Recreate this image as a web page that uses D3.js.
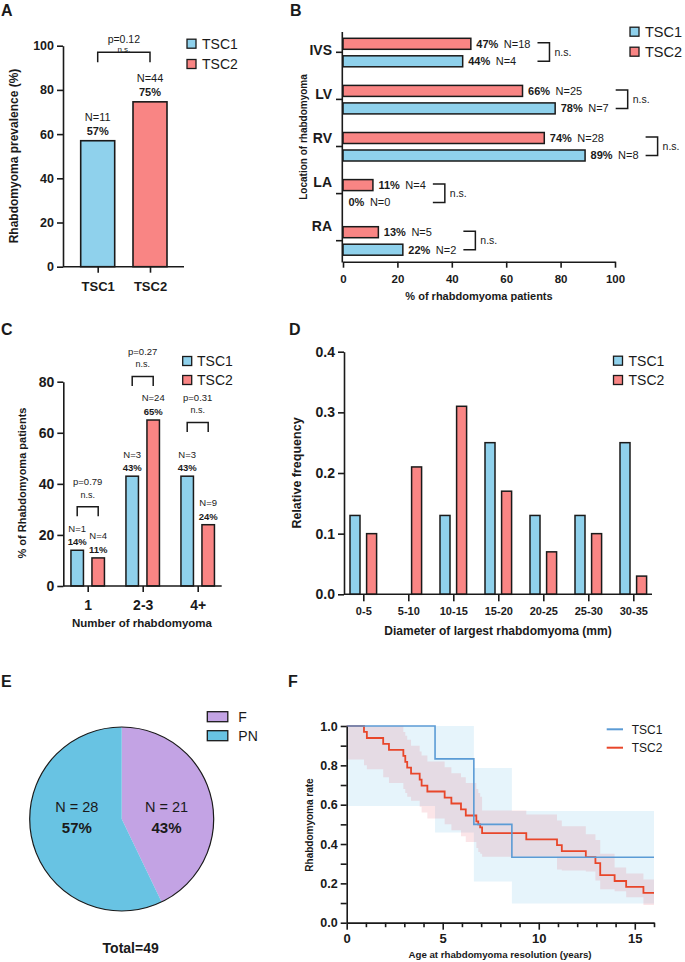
<!DOCTYPE html>
<html><head><meta charset="utf-8">
<script src="https://cdn.jsdelivr.net/npm/d3@7"></script>
<style>body{margin:0;background:#fff}svg{display:block}</style>
</head><body><svg id="fig" width="685" height="962"></svg>
<script>
// ---------------- DATA ----------------
const groups = ["TSC1", "TSC2"];
const prevalence = [57, 74.6];
const prevalenceN = ["N=11", "N=44"];
const prevalencePct = ["57%", "75%"];
const prevalenceP = "p=0.12";
const prevalenceBracket = 97;

const locations = ["IVS", "LV", "RV", "LA", "RA"];
const locTSC1 = [44, 78, 89, 0, 22];
const locTSC2 = [47, 66, 74, 11, 13];
const locN1 = [4, 7, 8, 0, 2];
const locN2 = [18, 25, 28, 4, 5];

const countCats = ["1", "2-3", "4+"];
const countTSC1 = [14, 43, 43];
const countTSC2 = [11, 65, 24];
const countN1 = [1, 3, 3];
const countN2 = [4, 24, 9];
const countP = ["p=0.79", "p=0.27", "p=0.31"];
const countBracket = [31, 82, 64];

const sizeBins = ["0-5", "5-10", "10-15", "15-20", "20-25", "25-30", "30-35"];
const sizeTSC1 = [0.13, 0, 0.13, 0.25, 0.13, 0.13, 0.25];
const sizeTSC2 = [0.10, 0.21, 0.31, 0.17, 0.07, 0.10, 0.03];

const pieLabels = ["F", "PN"];
const pieCounts = [21, 28];
const piePct = ["43%", "57%"];
const pieTotal = "Total=49";

const kmEnd = 16;
const kmTSC1Time  = [0, 4.6, 6.62, 8.6];
const kmTSC1Surv  = [1, 0.833, 0.5, 0.333];
const kmTSC1Upper = [1, 1, 0.787, 0.568];
const kmTSC1Lower = [0.593, 0.458, 0.209, 0.098];
const kmTSC2Time  = [0, 0.9, 1.05, 1.9, 2.2, 2.95, 3.05, 3.15, 3.35, 3.8, 3.9, 4.2, 5.1, 5.45, 5.95, 6.2, 6.75, 6.85, 6.95, 7.05, 9.35, 10.95, 11.2, 12.45, 12.95, 13.2, 13.95, 14.55, 15.45];
const kmTSC2Surv  = [1, 0.97, 0.939, 0.909, 0.879, 0.848, 0.818, 0.788, 0.758, 0.727, 0.697, 0.667, 0.636, 0.606, 0.576, 0.545, 0.515, 0.5, 0.485, 0.455, 0.424, 0.394, 0.364, 0.333, 0.303, 0.242, 0.212, 0.182, 0.152];
const kmTSC2Upper = [1, 1, 1, 1, 1, 0.97, 0.95, 0.93, 0.9, 0.87, 0.85, 0.82, 0.79, 0.76, 0.74, 0.71, 0.68, 0.66, 0.64, 0.57, 0.55, 0.52, 0.49, 0.45, 0.42, 0.35, 0.28, 0.25, 0.22];
const kmTSC2Lower = [0.83, 0.8, 0.78, 0.74, 0.71, 0.68, 0.66, 0.64, 0.62, 0.59, 0.56, 0.53, 0.5, 0.47, 0.44, 0.41, 0.38, 0.36, 0.35, 0.335, 0.335, 0.27, 0.265, 0.26, 0.215, 0.17, 0.16, 0.13, 0.09];

// ---------------- STYLE ----------------
const FONT = "'Liberation Sans', Arial, Helvetica, sans-serif";
const C1 = "#8FD1EC", C2 = "#F98584", INK = "#1a1a1a";
const PIE_COLORS = ["#C3A3E4", "#68C3E3"];
const KM1 = "#5B9BD5", KM2 = "#E8462A";

const svg = d3.select("#fig");
svg.append("rect").attr("width", 685).attr("height", 962).attr("fill", "#fff");

function text(g, x, y, s, size, weight = "normal", anchor = "middle") {
  return g.append("text").attr("x", x).attr("y", y).attr("dy", "0.35em")
    .attr("font-family", FONT).attr("font-size", size).attr("font-weight", weight)
    .attr("text-anchor", anchor).attr("fill", INK).text(s);
}
function vtext(g, x, y, s, size) {
  return g.append("text").attr("transform", `translate(${x},${y}) rotate(-90)`)
    .attr("dy", "0.35em").attr("font-family", FONT).attr("font-size", size)
    .attr("font-weight", "bold").attr("text-anchor", "middle").attr("fill", INK).text(s);
}
function styleAxis(g, size) {
  g.selectAll("path,line").attr("stroke", INK).attr("stroke-width", 1.6);
  g.selectAll("text").attr("font-family", FONT).attr("font-size", size)
    .attr("font-weight", "bold").attr("fill", INK);
}
function line(g, x1, y1, x2, y2, w = 1.6) {
  g.append("line").attr("x1", x1).attr("y1", y1).attr("x2", x2).attr("y2", y2)
    .attr("stroke", INK).attr("stroke-width", w);
}
function bracketDown(g, x1, x2, y, leg) {
  g.append("path").attr("d", `M${x1},${y + leg}V${y}H${x2}V${y + leg}`)
    .attr("fill", "none").attr("stroke", INK).attr("stroke-width", 1.5);
}
function legend(g, x, ys, labels, colors, tx, size, w = 9, h = 9) {
  labels.forEach((l, i) => {
    g.append("rect").attr("x", x).attr("y", ys[i] - h / 2).attr("width", w).attr("height", h)
      .attr("fill", colors[i]).attr("stroke", INK).attr("stroke-width", 1.3);
    text(g, tx, ys[i], l, size, "normal", "start");
  });
}
function letter(x, y, s) {
  svg.append("text").attr("x", x).attr("y", y).attr("font-family", FONT)
    .attr("font-size", 16).attr("font-weight", "bold").attr("fill", INK).text(s);
}

// ---------------- PANEL A ----------------
{
  const g = svg.append("g");
  letter(1, 16, "A");
  const y = d3.scaleLinear().domain([0, 100]).range([266.7, 45.7]);
  const x = d3.scalePoint().domain(groups).range([97.7, 150]);
  g.selectAll("rect.bar").data(groups).join("rect").attr("class", "bar")
    .attr("x", d => x(d) - 17).attr("width", 34)
    .attr("y", (d, i) => y(prevalence[i])).attr("height", (d, i) => y(0) - y(prevalence[i]))
    .attr("fill", (d, i) => [C1, C2][i]).attr("stroke", INK).attr("stroke-width", 1.6);
  const ya = g.append("g").attr("transform", "translate(63,0)")
    .call(d3.axisLeft(y).tickValues([0, 20, 40, 60, 80, 100]).tickSize(6).tickPadding(3).tickSizeOuter(0));
  styleAxis(ya, 12.5);
  line(g, 63, y(0), 184, y(0));
  const xa = g.append("g").attr("transform", `translate(0,${y(0)})`)
    .call(d3.axisBottom(x).tickSize(6).tickPadding(9));
  xa.select(".domain").remove();
  styleAxis(xa, 13);
  groups.forEach((d, i) => {
    text(g, x(d), y(prevalence[i]) - 24, prevalenceN[i], 11);
    text(g, x(d), y(prevalence[i]) - 10, prevalencePct[i], 11, "bold");
  });
  const by = y(prevalenceBracket);
  bracketDown(g, x(groups[0]), x(groups[1]), by, 10);
  text(g, (x(groups[0]) + x(groups[1])) / 2, by - 13.5, prevalenceP, 10.5);
  text(g, (x(groups[0]) + x(groups[1])) / 2, by - 3, "n.s.", 8);
  vtext(g, 14, 156, "Rhabdomyoma prevalence (%)", 12);
  legend(g, 187, [43.7, 64], groups, [C1, C2], 202, 14);
}

// ---------------- PANEL B ----------------
{
  const g = svg.append("g");
  letter(290, 16, "B");
  const x = d3.scaleLinear().domain([0, 100]).range([343, 615]);
  const y = d3.scalePoint().domain(locations).range([52.3, 240.7]);
  const yl = d3.scalePoint().domain(locations).range([50, 226]);
  locations.forEach((loc, i) => {
    const c = y(loc);
    g.append("rect").attr("x", x(0)).attr("y", c - 14).attr("height", 11)
      .attr("width", x(locTSC2[i]) - x(0)).attr("fill", C2).attr("stroke", INK).attr("stroke-width", 1.5);
    if (locTSC1[i] > 0)
      g.append("rect").attr("x", x(0)).attr("y", c + 3.5).attr("height", 11)
        .attr("width", x(locTSC1[i]) - x(0)).attr("fill", C1).attr("stroke", INK).attr("stroke-width", 1.5);
  });
  const xa = g.append("g").attr("transform", "translate(0,261.7)")
    .call(d3.axisBottom(x).tickValues([0, 20, 40, 60, 80, 100]).tickSize(6).tickPadding(7).tickSizeOuter(0));
  styleAxis(xa, 11.5);
  line(g, 342.3, 32, 342.3, 262.5);
  locations.forEach((loc, i) => {
    line(g, 336, y(loc), 342.3, y(loc));
    text(g, 332, yl(loc), loc, 14, "bold", "end");
  });
  function barLabel(v, n, cy) {
    const t = g.append("text").attr("x", x(v) + 5.5).attr("y", cy).attr("dy", "0.35em")
      .attr("font-family", FONT).attr("font-size", 11).attr("fill", INK);
    t.append("tspan").attr("font-weight", "bold").text(v + "%");
    t.append("tspan").attr("dx", 5.5).text("N=" + n);
    const bb = t.node().getBBox();
    return bb.x + bb.width;
  }
  locations.forEach((loc, i) => {
    const c = y(loc);
    const e2 = barLabel(locTSC2[i], locN2[i], c - 8.5);
    const e1 = barLabel(locTSC1[i], locN1[i], c + 9);
    const bx = Math.max(e1, e2) + 19;
    g.append("path").attr("d", `M${bx - 12},${c - 9.5}H${bx}V${c + 9}H${bx - 12}`)
      .attr("fill", "none").attr("stroke", INK).attr("stroke-width", 1.5);
    text(g, bx + 5, c, "n.s.", 10.5, "normal", "start");
  });
  vtext(g, 303, 137, "Location of rhabdomyoma", 10);
  text(g, 479, 296, "% of rhabdomyoma patients", 11, "bold");
  legend(g, 630, [31.7, 51.7], groups, [C1, C2], 645, 14.5);
}

// ---------------- PANEL C ----------------
{
  const g = svg.append("g");
  letter(1, 335, "C");
  const y = d3.scaleLinear().domain([0, 80]).range([586, 381.7]);
  const x = d3.scalePoint().domain(countCats).range([87.7, 197.7]);
  const bw = 12.5, off = 10.5;
  countCats.forEach((c, i) => {
    [[countTSC1[i], C1, -off, countN1[i]], [countTSC2[i], C2, off, countN2[i]]].forEach(([v, col, o, n]) => {
      g.append("rect").attr("x", x(c) + o - bw / 2).attr("width", bw)
        .attr("y", y(v)).attr("height", y(0) - y(v))
        .attr("fill", col).attr("stroke", INK).attr("stroke-width", 1.5);
      text(g, x(c) + o, y(v) - 22, "N=" + n, 9.5);
      text(g, x(c) + o, y(v) - 8.5, v + "%", 9.5, "bold");
    });
    const by = y(countBracket[i]);
    bracketDown(g, x(c) - off, x(c) + off, by, 9.5);
    text(g, x(c), by - 25, countP[i], 9.5);
    text(g, x(c), by - 12.4, "n.s.", 9);
  });
  const ya = g.append("g").attr("transform", "translate(63.3,0)")
    .call(d3.axisLeft(y).tickValues([0, 20, 40, 60, 80]).tickSize(6).tickPadding(3).tickSizeOuter(0));
  styleAxis(ya, 14);
  line(g, 63.3, y(0), 221.7, y(0));
  const xa = g.append("g").attr("transform", `translate(0,${y(0)})`)
    .call(d3.axisBottom(x).tickSize(6).tickPadding(8));
  xa.select(".domain").remove();
  styleAxis(xa, 14);
  vtext(g, 21.7, 483, "% of Rhabdomyoma patients", 11);
  text(g, 142, 622.5, "Number of rhabdomyoma", 11.5, "bold");
  legend(g, 182.7, [361, 380], groups, [C1, C2], 197, 14);
}

// ---------------- PANEL D ----------------
{
  const g = svg.append("g");
  letter(289, 335, "D");
  const y = d3.scaleLinear().domain([0, 0.4]).range([594.3, 351.7]);
  const x = d3.scalePoint().domain(sizeBins).range([363.3, 633.3]);
  const bw = 10, off = 8.3;
  sizeBins.forEach((b, i) => {
    [[sizeTSC1[i], C1, -off], [sizeTSC2[i], C2, off]].forEach(([v, col, o]) => {
      if (v <= 0) return;
      g.append("rect").attr("x", x(b) + o - bw / 2).attr("width", bw)
        .attr("y", y(v)).attr("height", y(0) - y(v))
        .attr("fill", col).attr("stroke", INK).attr("stroke-width", 1.5);
    });
  });
  const ya = g.append("g").attr("transform", "translate(344,0)")
    .call(d3.axisLeft(y).tickValues([0, 0.1, 0.2, 0.3, 0.4]).tickFormat(d3.format(".1f"))
      .tickSize(6).tickPadding(3).tickSizeOuter(0));
  styleAxis(ya, 14);
  line(g, 344, y(0), 652, y(0));
  const xa = g.append("g").attr("transform", `translate(0,${y(0)})`)
    .call(d3.axisBottom(x).tickSize(7).tickPadding(6));
  xa.select(".domain").remove();
  styleAxis(xa, 11);
  vtext(g, 297, 473, "Relative frequency", 12.5);
  text(g, 498, 631, "Diameter of largest rhabdomyoma (mm)", 12, "bold");
  legend(g, 613.5, [360.7, 380], groups, [C1, C2], 628.5, 14);
}

// ---------------- PANEL E ----------------
{
  const g = svg.append("g");
  letter(1, 687, "E");
  const cx = 121.7, cy = 819, r = 92;
  const pie = d3.pie().sort(null).value(d => d)(pieCounts);
  const arc = d3.arc().innerRadius(0).outerRadius(r);
  const lab = d3.arc().innerRadius(r * 0.5).outerRadius(r * 0.5);
  const pg = g.append("g").attr("transform", `translate(${cx},${cy})`);
  pg.selectAll("path").data(pie).join("path").attr("d", arc)
    .attr("fill", (d, i) => PIE_COLORS[i]);
  pg.append("circle").attr("r", r).attr("fill", "none").attr("stroke", INK).attr("stroke-width", 1.2);
  pie.forEach((d, i) => {
    const [lx] = lab.centroid(d);
    text(g, cx + lx, cy - 12.3, "N = " + pieCounts[i], 14.5);
    text(g, cx + lx, cy + 9, piePct[i], 15, "bold");
  });
  text(g, 130.7, 948, pieTotal, 14, "bold");
  legend(g, 207.3, [716.7, 735.7], pieLabels, PIE_COLORS, 238.3, 14, 20.5, 10);
}

// ---------------- PANEL F ----------------
{
  const g = svg.append("g");
  letter(288, 687, "F");
  const x = d3.scaleLinear().domain([0, kmEnd]).range([346.7, 654]);
  const y = d3.scaleLinear().domain([0, 1]).range([922.7, 726]);
  function pts(t, s, u, l) {
    const p = t.map((ti, i) => ({ t: ti, s: s[i], u: u[i], l: l[i] }));
    const last = p[p.length - 1];
    p.push({ t: kmEnd, s: last.s, u: last.u, l: last.l });
    return p;
  }
  const p1 = pts(kmTSC1Time, kmTSC1Surv, kmTSC1Upper, kmTSC1Lower);
  const p2 = pts(kmTSC2Time, kmTSC2Surv, kmTSC2Upper, kmTSC2Lower);
  const area = d3.area().curve(d3.curveStepAfter).x(d => x(d.t)).y0(d => y(d.l)).y1(d => y(d.u));
  const ln = d3.line().curve(d3.curveStepAfter).x(d => x(d.t)).y(d => y(d.s));
  g.append("path").attr("d", area(p1)).attr("fill", "#E6F4FB");
  g.append("path").attr("d", area(p2)).attr("fill", "rgb(230,70,90)").attr("fill-opacity", 0.14);
  g.append("path").attr("d", ln(p2)).attr("fill", "none").attr("stroke", KM2).attr("stroke-width", 1.8);
  g.append("path").attr("d", ln(p1)).attr("fill", "none").attr("stroke", KM1).attr("stroke-width", 1.6);
  const ya = g.append("g").attr("transform", `translate(${x(0)},0)`)
    .call(d3.axisLeft(y).tickValues(d3.range(0, 11).map(i => i / 10))
      .tickFormat(d => (Math.round(d * 10) % 2 === 0 ? d3.format(".1f")(d) : ""))
      .tickSize(6).tickPadding(3).tickSizeOuter(0));
  styleAxis(ya, 12.5);
  const xminor = g.append("g").attr("transform", `translate(0,${y(0)})`)
    .call(d3.axisBottom(x).tickValues(d3.range(0, 17).filter(v => v % 5 !== 0)).tickSize(4.5).tickFormat("").tickSizeOuter(0));
  styleAxis(xminor, 12);
  const xa = g.append("g").attr("transform", `translate(0,${y(0)})`)
    .call(d3.axisBottom(x).tickValues([0, 5, 10, 15]).tickSize(7).tickPadding(4).tickSizeOuter(0));
  styleAxis(xa, 13);
  vtext(g, 309, 825, "Rhabdomyoma rate", 10);
  text(g, 500, 955, "Age at rhabdomyoma resolution (years)", 9.7, "bold");
  [[KM1, 729.3, "TSC1"], [KM2, 747.7, "TSC2"]].forEach(([col, ly, l]) => {
    g.append("line").attr("x1", 606.7).attr("x2", 623).attr("y1", ly).attr("y2", ly)
      .attr("stroke", col).attr("stroke-width", 2);
    text(g, 631.7, ly, l, 12, "normal", "start");
  });
}
</script>
</body></html>
